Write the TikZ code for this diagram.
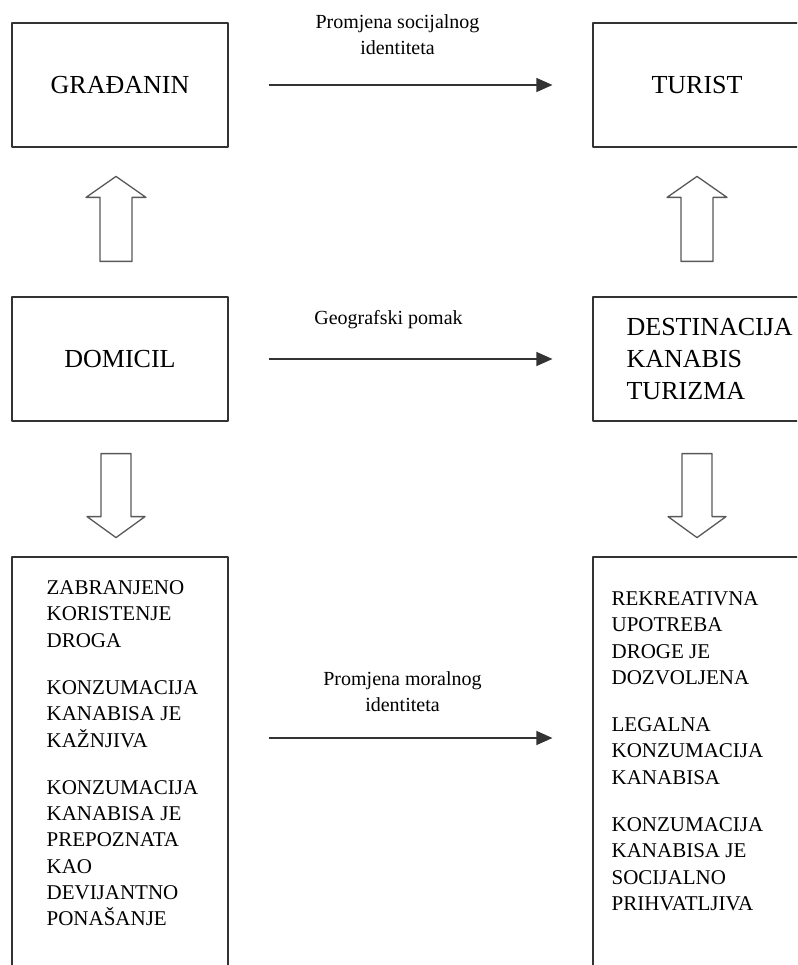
\documentclass[tikz,border=0pt]{standalone}
\usepackage{fontspec}
\setmainfont{Liberation Serif}
\usetikzlibrary{arrows.meta,calc}
\begin{document}
\begin{tikzpicture}[x=1pt, y=-1pt, line join=round, >={Triangle[length=16pt,width=14pt]},
  okvir/.style={draw=black!80, line width=1.2pt, rectangle, minimum width=216pt, minimum height=124pt, inner sep=0pt, font=\fontsize{26}{32}\selectfont},
  dugi/.style={okvir, minimum height=440pt},
  tok/.style={->, draw=black!80, line width=1.3pt, shorten <=40pt, shorten >=40pt},
  oznaka/.style={font=\fontsize{20}{26}\selectfont, align=center, inner sep=0pt},
  tekst/.style={anchor=north west, align=left, inner sep=0pt, font=\fontsize{21}{26.3}\selectfont},
  blok/.style={draw=black!65, line width=1.3pt, fill=white}]
\useasboundingbox (0,0) rectangle (797,965);
\clip (0,0) rectangle (797,965);
% Okviri gore i u sredini
\node[okvir] (grad) at (120,85) {GRAĐANIN};
\node[okvir, minimum width=208pt] (tur) at (697,85) {TURIST};
\node[okvir] (dom) at (120,359) {DOMICIL};
\node[okvir, minimum width=208pt] (dest) at (697,359) {};
\node[tekst, font=\fontsize{26}{32}\selectfont] (desttxt) at ($(dest.north west)+(34,22)$) {DESTINACIJA\\KANABIS\\TURIZMA};
% Donji okviri (izlaze preko ruba)
\node[dugi] (zab) at (120,777) {};
\node[dugi, minimum width=208pt] (rek) at (697,777) {};
\node[tekst] (zabtxt) at ($(zab.north west)+(35,24)$) {ZABRANJENO\\KORISTENJE\\DROGA\\[21pt]KONZUMACIJA\\KANABISA JE\\KAŽNJIVA\\[21pt]KONZUMACIJA\\KANABISA JE\\PREPOZNATA\\KAO\\DEVIJANTNO\\PONAŠANJE};
\node[tekst] (rektxt) at ($(rek.north west)+(19,35)$) {REKREATIVNA\\UPOTREBA\\DROGE JE\\DOZVOLJENA\\[21pt]LEGALNA\\KONZUMACIJA\\KANABISA\\[21pt]KONZUMACIJA\\KANABISA JE\\SOCIJALNO\\PRIHVATLJIVA};
% Vodoravne strelice
\draw[tok] (grad) -- node[oznaka, above=30pt, xshift=-13pt] (soc) {Promjena socijalnog\\identiteta} (tur);
\draw[tok] (dom) -- node[oznaka, above=30pt, xshift=-22pt] (geo) {Geografski pomak} (dest);
\draw[tok] ($(zab.east)+(0,-39)$) -- node[oznaka, above=26pt, xshift=-8pt] (mor) {Promjena moralnog\\identiteta} ($(rek.west)+(0,-39)$);
% Šuplje strelice gore i dolje
\foreach \n/\d in {dom/-4,dest/0}{
  \draw[blok] ($(\n.north)+(\d-16,-35)$) -- ++(0,-64) -- ++(-14,0) -- ++(30,-21) -- ++(30,21) -- ++(-14,0) -- ++(0,64) -- cycle;
  \draw[blok] ($(\n.south)+(\d-15,32)$) -- ++(0,63) -- ++(-14,0) -- ++(29,21) -- ++(29,-21) -- ++(-14,0) -- ++(0,-63) -- cycle;
}
\end{tikzpicture}
\end{document}
